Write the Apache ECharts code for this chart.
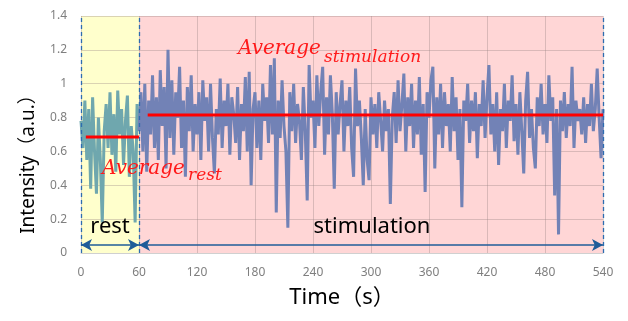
<!DOCTYPE html>
<html><head><meta charset="utf-8">
<script src="https://cdn.jsdelivr.net/npm/echarts@6/dist/echarts.min.js"></script>
<style>html,body{margin:0;padding:0;background:#fff}#c{width:628px;height:321px}</style>
</head><body><div id="c"></div>
<script>
// ---- data ----
const xTickInterval = 60;             // s
const xRange = [0, 540];
const yRange = [0, 1.4];
const yTickInterval = 0.2;
const sampleStep = 2;                 // s between samples
const restStart = 0;
const stimStart = 60;
const phaseRest = [0, 60];
const phaseStim = [60, 540];
const restValues = [0.78,0.62,0.9,0.55,0.85,0.38,0.92,0.6,0.35,0.8,
  0.55,0.18,0.72,0.88,0.62,0.95,0.58,0.82,0.48,0.96,
  0.7,0.85,0.52,0.78,0.93,0.45,0.75,0.6,0.18,0.88,0.72];
const stimValues = [
  0.72,0.95,0.6,1.0,0.48,0.9,0.7,1.05,0.62,0.92,
  0.55,1.08,0.75,0.98,0.5,1.2,0.68,1.02,0.58,0.95,
  0.8,1.1,0.62,0.9,0.45,0.98,0.72,1.05,0.6,0.88,
  0.7,0.95,0.55,1.02,0.78,0.92,0.6,1.0,0.68,0.47,
  0.85,0.7,1.03,0.62,0.9,0.75,1.0,0.58,0.92,0.82,
  0.65,0.98,0.55,0.88,0.72,1.04,0.6,1.07,0.4,0.85,
  0.95,0.62,0.9,0.55,1.0,0.78,0.92,0.65,1.11,0.7,
  1.15,0.24,0.9,0.68,1.02,0.75,0.6,0.15,0.95,0.72,
  1.0,0.65,0.88,0.78,0.55,0.98,0.72,0.31,1.11,0.8,
  0.9,0.62,1.05,0.75,0.95,1.1,0.58,0.92,0.7,1.05,
  0.82,0.38,0.95,0.7,0.88,1.02,0.6,0.9,0.75,0.98,
  0.62,0.45,1.09,0.75,0.9,0.68,0.4,0.85,0.55,0.43,
  0.92,0.7,0.88,0.62,0.95,0.78,0.6,0.9,0.72,0.85,
  0.29,0.8,0.95,0.65,1.02,0.72,0.88,1.06,0.6,0.92,
  0.75,1.0,0.62,0.9,0.7,1.04,0.58,0.88,0.36,0.95,
  0.8,1.02,1.1,0.5,0.92,0.7,1.0,0.62,0.95,0.75,
  0.88,0.6,1.04,0.72,0.92,0.55,0.85,0.27,0.9,0.78,
  1.0,0.65,0.9,0.72,0.95,0.56,0.88,0.75,1.02,0.68,
  0.92,1.11,0.7,0.88,0.6,0.95,0.52,0.85,0.72,1.0,
  0.62,0.9,0.78,1.05,0.66,0.88,0.58,0.95,0.72,0.47,
  0.9,1.07,0.68,0.85,0.62,0.5,0.92,0.75,1.0,0.7,
  0.88,0.65,1.05,0.78,0.92,0.34,0.85,0.11,0.9,0.72,
  0.95,0.68,0.88,0.75,1.1,0.62,0.9,0.78,0.85,0.7,
  0.92,0.65,0.88,0.75,1.0,0.72,0.85,1.09,0.8,0.56,
  0.85];
const restAverage = 0.685;
const stimAverage = 0.815;
const restAvgSpan = [5, 60];
const stimAvgSpan = [69, 540];
const arrowLevel = 0.047;

// ---- build ----
const toPairs = (start, vals) => vals.map((v, i) => [start + i * sampleStep, v]);
const sansFont = '"Noto Sans", "Noto Sans CJK JP", sans-serif';
const chart = echarts.init(document.getElementById('c'), null, {renderer: 'canvas'});
const gridColor = 'rgba(150,130,130,0.35)';
const option = {
  animation: false,
  grid: {left: 81, right: 25, top: 16, bottom: 68},
  xAxis: {
    type: 'value', min: xRange[0], max: xRange[1], interval: xTickInterval, z: 1,
    axisLine: {show: true, lineStyle: {color: '#d0d0d0'}},
    axisTick: {show: false},
    axisLabel: {color: '#7f7f7f', fontSize: 12, margin: 14, fontFamily: sansFont},
    splitLine: {show: true, lineStyle: {color: gridColor}},
    name: 'Time（s）', nameLocation: 'middle', nameGap: 34,
    nameTextStyle: {color: '#000', fontSize: 22, fontFamily: sansFont}
  },
  yAxis: {
    type: 'value', min: yRange[0], max: yRange[1], interval: yTickInterval, z: 1,
    axisLine: {show: false}, axisTick: {show: false},
    axisLabel: {color: '#7f7f7f', fontSize: 12, margin: 14, fontFamily: sansFont,
      formatter: v => String(+v.toFixed(1))},
    splitLine: {show: true, lineStyle: {color: gridColor}},
    name: 'Intensity（a.u.）', nameLocation: 'middle', nameGap: 43,
    nameTextStyle: {color: '#000', fontSize: 19, fontFamily: sansFont, padding: [0, 50, 0, 0]}
  },
  series: [
    {
      type: 'line', data: [], z: 0, silent: true,
      markArea: {silent: true, z: 0, data: [
        [{xAxis: phaseRest[0], itemStyle: {color: '#ffffcc'}}, {xAxis: phaseRest[1]}],
        [{xAxis: phaseStim[0], itemStyle: {color: '#ffd6d6'}}, {xAxis: phaseStim[1]}]
      ]}
    },
    {
      name: 'rest', type: 'line', data: toPairs(restStart, restValues), z: 3,
      symbol: 'none', lineStyle: {color: '#6fa7ae', width: 3}, itemStyle: {color: '#6fa7ae'}
    },
    {
      name: 'stimulation', type: 'line', data: toPairs(stimStart, stimValues), z: 3,
      symbol: 'none', lineStyle: {color: '#7282b6', width: 3}, itemStyle: {color: '#7282b6'}
    },
    {
      type: 'line', z: 4, symbol: 'none', lineStyle: {color: '#ff0000', width: 3},
      data: [[restAvgSpan[0], restAverage], [restAvgSpan[1], restAverage]]
    },
    {
      type: 'line', z: 4, symbol: 'none', lineStyle: {color: '#ff0000', width: 3},
      data: [[stimAvgSpan[0], stimAverage], [stimAvgSpan[1], stimAverage]]
    },
    {
      type: 'line', data: [], z: 5, silent: true,
      markLine: {
        silent: true, symbol: 'none', label: {show: false},
        lineStyle: {color: '#2d6cb0', width: 1.3, type: [4, 3]},
        data: [{xAxis: phaseRest[0]}, {xAxis: phaseRest[1]}, {xAxis: phaseStim[1]}]
      }
    },
    {
      type: 'line', data: [], z: 5, silent: true,
      markLine: {
        silent: true, symbol: ['arrow', 'arrow'], symbolSize: [9, 11], label: {show: false},
        lineStyle: {color: '#1f5c99', width: 1.5, type: 'solid'},
        data: [
          [{coord: [phaseRest[0], arrowLevel]}, {coord: [phaseRest[1], arrowLevel]}],
          [{coord: [phaseStim[0], arrowLevel]}, {coord: [phaseStim[1], arrowLevel]}]
        ]
      }
    }
  ],
  graphic: [
    {type: 'text', x: 102, y: 169, z: 10, style: {text: 'Average', fill: '#ff1a1a',
      fontFamily: 'DejaVu Serif', fontStyle: 'italic', fontSize: 20, verticalAlign: 'middle'}},
    {type: 'text', x: 188, y: 176, z: 10, style: {text: 'rest', fill: '#ff1a1a',
      fontFamily: 'DejaVu Serif', fontStyle: 'italic', fontSize: 17, verticalAlign: 'middle'}},
    {type: 'text', x: 238, y: 49, z: 10, style: {text: 'Average', fill: '#ff1a1a',
      fontFamily: 'DejaVu Serif', fontStyle: 'italic', fontSize: 20, verticalAlign: 'middle'}},
    {type: 'text', x: 324, y: 58, z: 10, style: {text: 'stimulation', fill: '#ff1a1a',
      fontFamily: 'DejaVu Serif', fontStyle: 'italic', fontSize: 17, verticalAlign: 'middle'}},
    {type: 'text', x: 110, y: 227, z: 10, style: {text: 'rest', fill: '#000',
      fontFamily: sansFont, fontSize: 22, align: 'center', verticalAlign: 'middle'}},
    {type: 'text', x: 372, y: 227, z: 10, style: {text: 'stimulation', fill: '#000',
      fontFamily: sansFont, fontSize: 22, align: 'center', verticalAlign: 'middle'}}
  ]
};
chart.setOption(option);
</script></body></html>
